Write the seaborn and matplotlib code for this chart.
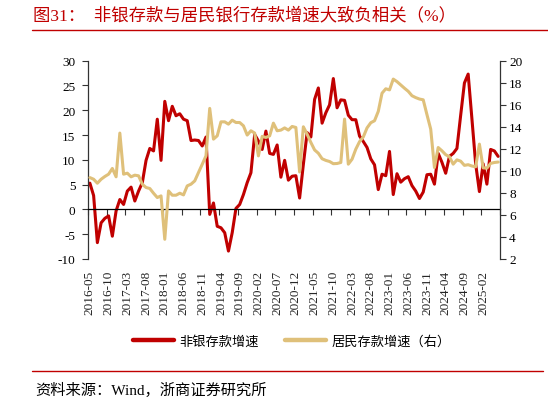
import pandas as pd
import seaborn as sns
import matplotlib.pyplot as plt
from matplotlib.lines import Line2D

# monthly data, 2016-05 .. 2025-06
months = pd.period_range("2016-05", "2025-06", freq="M").strftime("%Y-%m").tolist()

# 非银存款增速 (left axis, %)
nonbank = [5.3, 2.8, -6.7, -2.7, -1.8, -1.3, -5.4, -0.3, 2.0, 1.0,
           3.7, 4.5, 1.7, 3.7, 5.4, 9.9, 12.3, 11.8, 18.2, 9.9,
           21.8, 17.9, 20.8, 18.9, 19.3, 18.2, 17.9, 13.9, 14.0, 13.9,
           12.8, 14.6, -1.0, 1.3, -3.4, -3.7, -4.7, -8.4, -4.7, 0.2,
           1.0, 3.0, 5.4, 7.4, 15.1, 13.8, 12.1, 15.8, 11.3, 11.1,
           13.0, 6.5, 9.9, 5.9, 6.7, 6.8, 2.3, 9.1, 15.5, 14.6,
           22.2, 24.5, 17.4, 19.5, 21.1, 26.4, 20.5, 22.1, 22.0, 19.0,
           18.1, 18.1, 14.8, 13.7, 12.5, 10.2, 9.0, 4.0, 7.1, 6.8,
           11.7, 3.0, 7.2, 5.5, 6.2, 6.6, 4.8, 3.7, 2.2, 3.5,
           7.0, 7.1, 5.1, 11.3, 9.5, 7.3, 10.7, 11.3, 12.3, 19.0,
           25.5, 27.3, 18.3, 9.2, 3.6, 9.2, 5.1, 12.1, 11.8, 10.7]

# 居民存款增速 (right axis, %)
resident = [9.39, 9.24, 8.88, 9.24, 9.49, 9.70, 10.22, 9.46, 13.43, 9.70,
            9.79, 9.46, 9.61, 9.55, 8.79, 8.49, 8.40, 7.97, 7.58, 7.73,
            3.79, 8.18, 7.79, 7.79, 7.97, 7.82, 8.64, 8.79, 9.09, 9.85,
            10.6, 11.36, 15.67, 12.88, 13.18, 14.45, 14.45, 14.24, 14.6, 14.39,
            14.39, 14.09, 13.25, 13.64, 13.43, 11.36, 13.13, 13.03, 13.18, 14.33,
            13.64, 13.7, 13.9, 13.7, 14.03, 13.94, 9.9, 14.0, 13.33, 12.58,
            11.9, 11.6, 11.1, 10.95, 10.85, 10.65, 10.67, 10.76, 14.7, 10.61,
            11.06, 11.97, 12.65, 13.08, 13.9, 14.37, 14.55, 15.4, 17.05, 17.45,
            17.35, 18.33, 18.1, 17.8, 17.5, 17.22, 16.82, 16.65, 16.52, 16.45,
            15.1, 13.79, 10.3, 12.12, 11.82, 11.47, 11.28, 10.61, 11.0, 10.88,
            10.5, 10.56, 10.44, 10.37, 12.43, 10.27, 10.25, 10.68, 10.76, 10.8]

RED = "#C00000"
GOLD = "#DFC07A"

sns.set_theme(style="ticks")
plt.rcParams['font.family'] = ['Liberation Serif', 'Noto Sans CJK SC']
plt.rcParams['text.color'] = 'black'
plt.rcParams['axes.unicode_minus'] = False

df = pd.DataFrame({'idx': range(len(months)), 'month': months,
                   'nonbank': nonbank, 'resident': resident})
n = len(months)

W, H = 548, 402
fig = plt.figure(figsize=(W / 100, H / 100), dpi=100)
ax = fig.add_axes([88 / W, 1 - 260 / H, 412 / W, 198.3 / H])

sns.lineplot(data=df, x='idx', y='nonbank', ax=ax, color=RED, lw=2.2)
ax2 = ax.twinx()
sns.lineplot(data=df, x='idx', y='resident', ax=ax2, color=GOLD, lw=2.2)

ax.set_xlim(-0.5, n - 0.5)
ax.set_ylim(-10, 30)
ax.set_yticks(range(-10, 31, 5))
ax2.set_ylim(2, 20)
ax2.set_yticks(range(2, 21, 2))
for a in (ax, ax2):
    a.set_xlabel("")
    a.set_ylabel("")

# spines
for s in ('top', 'right'):
    ax.spines[s].set_visible(False)
for s in ('top', 'left', 'bottom'):
    ax2.spines[s].set_visible(False)
ax.spines['left'].set_color('#333333')
ax.spines['left'].set_linewidth(0.9)
ax2.spines['right'].set_color('#333333')
ax2.spines['right'].set_linewidth(0.9)
ax.spines['bottom'].set_position(('data', 0))
ax.spines['bottom'].set_color('black')
ax.spines['bottom'].set_linewidth(0.9)

# tick marks at category boundaries on the zero line
ax.set_xticks([i - 0.5 for i in range(0, n + 1, 5)])
ax.tick_params(axis='x', direction='out', length=4, width=0.8,
               color='#333333', labelbottom=False)
ax.tick_params(axis='y', direction='out', length=4, width=0.8,
               color='#333333', labelsize=9.5, pad=5, labelcolor='black')
ax2.tick_params(axis='y', direction='out', length=4, width=0.8,
                color='#333333', labelsize=9.5, pad=2.5, labelcolor='black')

# month labels at the bottom of the plot area
sec = ax.secondary_xaxis('bottom')
sec.set_xticks(list(range(0, n, 5)))
sec.set_xticklabels(months[::5], rotation=90, fontsize=9.5)
sec.tick_params(length=0, pad=8)
sec.spines['bottom'].set_visible(False)

# legend
handles = [Line2D([], [], color=RED, lw=3.2), Line2D([], [], color=GOLD, lw=3.2)]
fig.legend(handles, ['非银存款增速', '居民存款增速（右）'], loc='center',
           bbox_to_anchor=(292 / W, 1 - 342 / H), ncol=2, frameon=False,
           fontsize=9.5, handlelength=3.1, handletextpad=0.4, columnspacing=2.0)

# title, rules and source
fig.text(33 / W, 1 - 15.5 / H, '图31：  非银存款与居民银行存款增速大致负相关（%）',
         color=RED, fontsize=12.5, va='center', ha='left')
fig.add_artist(Line2D([32 / W, 1], [1 - 31 / H, 1 - 31 / H], color=RED, lw=1.0,
                      transform=fig.transFigure))
fig.add_artist(Line2D([32 / W, 543 / W], [1 - 371.5 / H, 1 - 371.5 / H], color=RED,
                      lw=1.0, transform=fig.transFigure))
fig.text(35 / W, 1 - 390 / H, '资料来源：Wind，浙商证券研究所',
         fontsize=11, va='center', ha='left')

fig.savefig('out.png', dpi=100)
